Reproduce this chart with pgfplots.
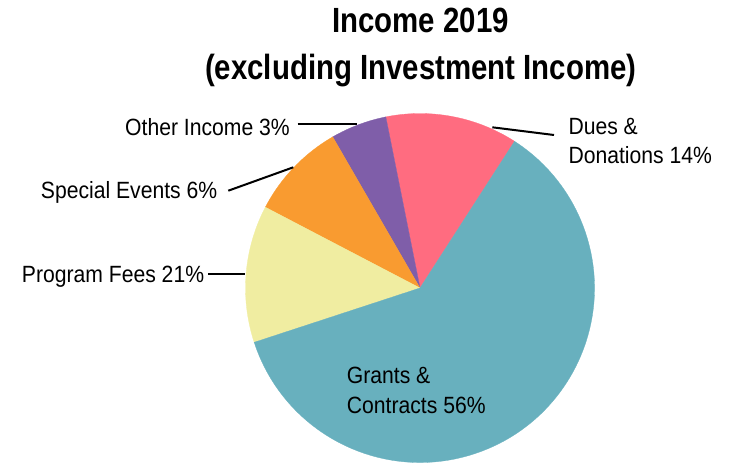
\documentclass[border=0pt]{standalone}
\usepackage{pgfplots}
\pgfplotsset{compat=1.18}
\usepackage{pgfplotstable}
\usepackage{fontspec}
\setmainfont{Liberation Sans}[FakeStretch=0.9]
\newfontfamily\titlefont{Liberation Sans}[FakeStretch=0.84]

\definecolor{grantsteal}{RGB}{104,176,190}
\definecolor{duespink}{RGB}{255,108,128}
\definecolor{otherpurple}{RGB}{127,94,169}
\definecolor{specialorange}{RGB}{249,155,48}
\definecolor{programyellow}{RGB}{240,237,161}

% shares as drawn in the picture (counter-clockwise, starting at 57.2 deg)
\pgfplotstableread[col sep=comma]{
label,share,color
Dues,12.25,duespink
Other,5.2,otherpurple
Special,9.0,specialorange
Program,12.7,programyellow
Grants,60.85,grantsteal
}\incometable

\begin{document}
\begin{tikzpicture}
% cumulative angles of the slices
\def\cumangle{57.2}
\pgfplotstablegetrowsof{\incometable}
\pgfmathtruncatemacro\lastrow{\pgfplotsretval-1}
\pgfplotsforeachungrouped \i in {0,...,\lastrow}{%
	\pgfplotstablegetelem{\i}{share}\of\incometable
	\pgfmathsetmacro\nextangle{\cumangle+3.6*\pgfplotsretval}
	\expandafter\let\csname startangle\i\endcsname\cumangle
	\expandafter\let\csname endangle\i\endcsname\nextangle
	\pgfplotstablegetelem{\i}{color}\of\incometable
	\colorlet{slice\i}{\pgfplotsretval}
	\let\cumangle\nextangle
}
\begin{axis}[
	hide axis,
	scale only axis,
	width=730pt,
	height=466pt,
	xmin=0, xmax=730,
	ymin=0, ymax=466,
	clip=false,
	]
	\pgfplotsinvokeforeach{0,...,4}{
		\fill[slice#1, draw=slice#1, line width=0.3pt] (axis cs:420,178)
		-- ++(\csname startangle#1\endcsname:174.5pt)
		arc[start angle=\csname startangle#1\endcsname, end angle=\csname endangle#1\endcsname, radius=174.5pt]
		-- cycle;
	}
	% title
	\node[anchor=base, inner sep=0pt, font=\titlefont\bfseries\fontsize{35}{40}\selectfont] at (axis cs:420.5,433.3) {Income 2019};
	\node[anchor=base, inner sep=0pt, font=\titlefont\bfseries\fontsize{35}{40}\selectfont] at (axis cs:420.8,386) {(excluding Investment Income)};
	% labels
	\tikzset{lbl/.style={anchor=base west, inner sep=0pt, font=\fontsize{23.5}{28}\selectfont}}
	\node[lbl] at (axis cs:125,330.5) {Other Income 3\%};
	\node[lbl] at (axis cs:40.7,267) {Special Events 6\%};
	\node[lbl] at (axis cs:21.7,183.3) {Program Fees 21\%};
	\node[lbl] at (axis cs:568.3,331) {Dues \&};
	\node[lbl] at (axis cs:568.3,302.7) {Donations 14\%};
	\node[lbl] at (axis cs:346.7,82.7) {Grants \&};
	\node[lbl] at (axis cs:346.7,52.7) {Contracts 56\%};
	% leader lines
	\draw[line width=2pt] (axis cs:297.7,341.7) -- (axis cs:357.3,341.7);
	\draw[line width=2pt] (axis cs:228.3,275.3) -- (axis cs:293.3,298.7);
	\draw[line width=2pt] (axis cs:208.3,192) -- (axis cs:245,192);
	\draw[line width=2pt] (axis cs:492.3,338.7) -- (axis cs:554,331);
\end{axis}
\pgfresetboundingbox
\path (current axis.south west) rectangle (current axis.north east);
\end{tikzpicture}
\end{document}
